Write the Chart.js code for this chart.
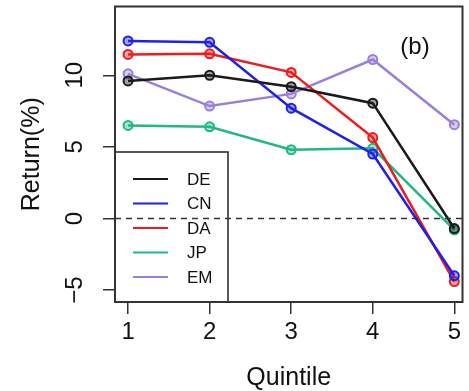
<!DOCTYPE html>
<html>
<head>
<meta charset="utf-8">
<script src="https://cdn.jsdelivr.net/npm/chart.js@4/dist/chart.umd.min.js"></script>
<style>
  html, body { margin: 0; padding: 0; background: #fff; }
  #wrap { width: 469px; height: 391px; }
</style>
</head>
<body>
<div id="wrap"><canvas id="grafico"></canvas></div>
<script>
// Dados
const quintis = [1, 2, 3, 4, 5];
const serieDE = [9.6, 10.0, 9.2, 8.05, -0.7];
const serieCN = [12.4, 12.3, 7.7, 4.5, -4.0];
const serieDA = [11.45, 11.5, 10.2, 5.65, -4.4];
const serieJP = [6.5, 6.4, 4.8, 4.9, -0.8];
const serieEM = [10.1, 7.85, 8.7, 11.1, 6.55];
const nomes = ['DE', 'CN', 'DA', 'JP', 'EM'];
const cores = ['#1a1a1a', '#1f1fee', '#ee1c1c', '#1fb886', '#9a7fd8'];
const yTicks = [-5, 0, 5, 10];
const xTicks = [1, 2, 3, 4, 5];
const painel = '(b)';

const fonte = "'Liberation Sans', Arial, Helvetica, sans-serif";

function montaSerie(valores, i) {
    return {
        label: nomes[i],
        data: valores.map((v, k) => ({ x: quintis[k], y: v })),
        borderColor: cores[i],
        backgroundColor: cores[i] + '55',
        borderWidth: 2.5,
        pointRadius: 4.5,
        pointBorderWidth: 2,
        pointBackgroundColor: cores[i] + '66',
        pointBorderColor: cores[i],
        tension: 0
    };
}

// Caixa, legenda, linha tracejada e rótulo do painel
const extras = {
    id: 'extras',
    afterDatasetsDraw(chart) {
        const ctx = chart.ctx;
        const a = chart.chartArea;
        const y = chart.scales.y;
        ctx.save();

        // legenda
        const lx = a.left, ly = 152, lw = 113, lh = a.bottom - 152;
        ctx.fillStyle = '#fff';
        ctx.fillRect(lx, ly, lw, lh);
        ctx.strokeStyle = '#222';
        ctx.lineWidth = 1.5;
        ctx.strokeRect(lx, ly, lw, lh);
        ctx.font = '17px ' + fonte;
        ctx.textBaseline = 'middle';
        ctx.textAlign = 'left';
        chart.data.datasets.forEach((ds, i) => {
            const yy = 179 + i * 24.5;
            ctx.strokeStyle = ds.borderColor;
            ctx.lineWidth = 2;
            ctx.beginPath();
            ctx.moveTo(lx + 18, yy);
            ctx.lineTo(lx + 53, yy);
            ctx.stroke();
            ctx.fillStyle = '#111';
            ctx.fillText(ds.label, lx + 72, yy + 1);
        });

        // linha do zero
        const y0 = y.getPixelForValue(0);
        ctx.strokeStyle = '#333';
        ctx.lineWidth = 1.5;
        ctx.setLineDash([6, 5]);
        ctx.beginPath();
        ctx.moveTo(a.left, y0);
        ctx.lineTo(a.right, y0);
        ctx.stroke();
        ctx.setLineDash([]);

        // caixa do gráfico
        ctx.strokeStyle = '#333';
        ctx.lineWidth = 2;
        ctx.strokeRect(a.left, a.top, a.right - a.left, a.bottom - a.top);

        // rótulo (b)
        ctx.fillStyle = '#111';
        ctx.font = '24px ' + fonte;
        ctx.textAlign = 'center';
        ctx.fillText(painel, 415, 47);
        ctx.restore();
    }
};

new Chart(document.getElementById('grafico'), {
    type: 'line',
    data: {
        datasets: [serieDE, serieCN, serieDA, serieJP, serieEM].map(montaSerie)
    },
    options: {
        responsive: true,
        maintainAspectRatio: false,
        animation: false,
        layout: { padding: { top: 3, right: 6, left: 0, bottom: 0 } },
        plugins: { legend: { display: false }, tooltip: { enabled: false } },
        scales: {
            x: {
                type: 'linear',
                min: 0.84,
                max: 5.1,
                afterBuildTicks: (s) => { s.ticks = xTicks.map(v => ({ value: v })); },
                afterFit: (s) => { s.height = 89; s.paddingLeft = 0; s.paddingRight = 0; },
                grid: { drawOnChartArea: false, drawTicks: true, tickLength: 12, color: '#333', lineWidth: 1.5 },
                border: { display: false },
                ticks: { color: '#111', font: { family: fonte, size: 24 }, padding: 4, maxRotation: 0 },
                title: { display: true, text: 'Quintile', color: '#111', font: { family: fonte, size: 25, lineHeight: 1 }, padding: { top: 0, bottom: 0 } }
            },
            y: {
                min: -5.83,
                max: 14.8,
                afterBuildTicks: (s) => { s.ticks = yTicks.map(v => ({ value: v })); },
                afterFit: (s) => { s.width = 115; s.paddingTop = 0; s.paddingBottom = 0; },
                grid: { drawOnChartArea: false, drawTicks: true, tickLength: 12, color: '#333', lineWidth: 1.5 },
                border: { display: false },
                ticks: {
                    color: '#111',
                    font: { family: fonte, size: 24 },
                    minRotation: 90,
                    maxRotation: 90,
                    crossAlign: 'center',
                    padding: 14,
                    callback: (v) => (v < 0 ? '\u2212' + Math.abs(v) : String(v))
                },
                title: { display: true, text: 'Return(%)', color: '#111', font: { family: fonte, size: 25 }, padding: { top: 17, bottom: 0 } }
            }
        }
    },
    plugins: [extras]
});
</script>
</body>
</html>
